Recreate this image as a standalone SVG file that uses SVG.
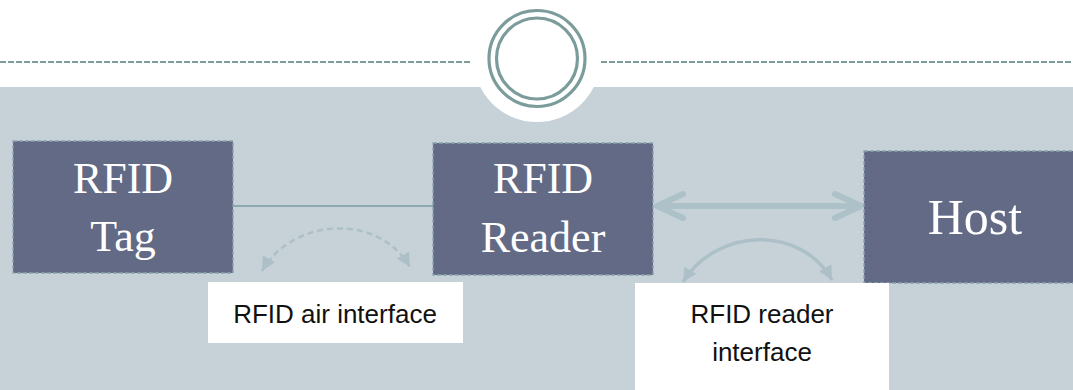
<svg xmlns="http://www.w3.org/2000/svg" width="1073" height="390" viewBox="0 0 1073 390">
<defs>
<style>
.node rect{fill:#636A85;stroke:#8AA3AD;stroke-width:1.3;stroke-dasharray:4 2}
.node text{font-family:"Liberation Serif","Times New Roman",serif;fill:#FFFFFF;text-anchor:middle}
.lbl rect{fill:#FFFFFF}
.lbl text{font-family:"Liberation Sans",Arial,sans-serif;font-size:26px;fill:#111111;text-anchor:middle}
.ring{fill:none;stroke:#7B9C9A;stroke-width:3.2}
.hdash{stroke:#7B9C9A;stroke-width:2;stroke-dasharray:6 2}
</style>
<marker id="tri" viewBox="-14 -8 16 16" markerWidth="16" markerHeight="16" refX="0" refY="0" orient="auto-start-reverse" markerUnits="userSpaceOnUse">
<path d="M-14,-7 L0,0 L-14,7 Z" fill="#ADC0C8"/>
</marker>
<marker id="chev" viewBox="-34 -18 40 36" markerWidth="40" markerHeight="36" refX="0" refY="0" orient="auto-start-reverse" markerUnits="userSpaceOnUse">
<path d="M-26,-12 L0,0 L-26,12" fill="none" stroke="#ADC1C8" stroke-width="6" stroke-linecap="round" stroke-linejoin="round"/>
</marker>
</defs>
<rect x="0" y="0" width="1073" height="390" fill="#FFFFFF"/>
<rect x="0" y="87" width="1073" height="303" fill="#C6D2D8"/>
<g id="header">
<line class="hdash" x1="0" y1="62" x2="471" y2="62"/>
<line class="hdash" x1="601" y1="62" x2="1073" y2="62"/>
<circle cx="537" cy="58.5" r="63.5" fill="#FFFFFF"/>
<circle class="ring" cx="537" cy="58.5" r="48"/>
<circle class="ring" cx="537" cy="58.5" r="40.5"/>
</g>
<g id="connectors">
<line x1="233" y1="206" x2="433" y2="206" stroke="#8EA9B3" stroke-width="2"/>
<path d="M262,271 C292,218 378,212 410,267" fill="none" stroke="#ADC0C8" stroke-width="2.5" stroke-dasharray="6 4" marker-start="url(#tri)" marker-end="url(#tri)"/>
<line x1="657" y1="206" x2="861" y2="206" stroke="#ADC1C8" stroke-width="6" marker-start="url(#chev)" marker-end="url(#chev)"/>
<path d="M683,282 C718,226 802,226 832,280" fill="none" stroke="#ADC0C8" stroke-width="3.5" marker-start="url(#tri)" marker-end="url(#tri)"/>
</g>
<g id="node-tag" class="node">
<rect x="13" y="141" width="220" height="132"/>
<text x="123" y="193" font-size="44">RFID</text>
<text x="123" y="251" font-size="44">Tag</text>
</g>
<g id="node-reader" class="node">
<rect x="433" y="143" width="220" height="132"/>
<text x="543" y="193" font-size="44">RFID</text>
<text x="543" y="252" font-size="44">Reader</text>
</g>
<g id="node-host" class="node">
<rect x="864" y="151" width="220" height="132"/>
<text x="975" y="234" font-size="50">Host</text>
</g>
<g id="label-air" class="lbl">
<rect x="208" y="282" width="255" height="61"/>
<text x="335" y="323">RFID air interface</text>
</g>
<g id="label-reader" class="lbl">
<rect x="635" y="283" width="254" height="107"/>
<text x="762" y="323">RFID reader</text>
<text x="762" y="361">interface</text>
</g>
</svg>
